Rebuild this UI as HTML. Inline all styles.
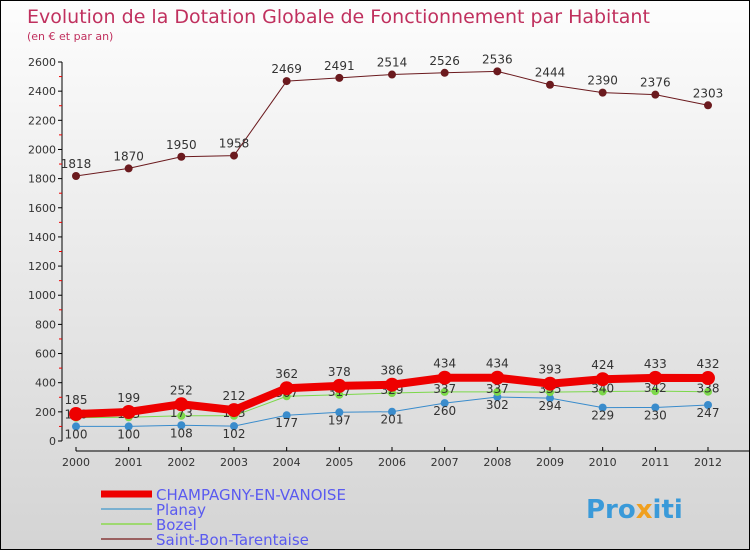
<!DOCTYPE html>
<html><head><meta charset="utf-8"><style>
body{margin:0}
#c{width:750px;height:550px;position:relative;overflow:hidden;box-sizing:border-box;border:1px solid #000;background:linear-gradient(#fdfdfd,#d4d4d4);font-family:"DejaVu Sans","Liberation Sans",sans-serif}
text{font-family:"DejaVu Sans","Liberation Sans",sans-serif}
</style></head><body>
<div id="c">
<svg id="s" width="750" height="550">
<text x="26" y="22" font-size="19" fill="#c0305e">Evolution de la Dotation Globale de Fonctionnement par Habitant</text>
<text x="26" y="39" font-size="11" fill="#c0305e">(en € et par an)</text>
<g id="axes"></g><g id="series"></g><g id="legend"></g>
<text x="585" y="517" font-size="26" font-weight="bold" fill="#3a9ad9">Pro<tspan fill="#f0a020">x</tspan>iti</text>
</svg></div>
<script>
const years=[2000,2001,2002,2003,2004,2005,2006,2007,2008,2009,2010,2011,2012];
const yTicks=[0,200,400,600,800,1000,1200,1400,1600,1800,2000,2200,2400,2600];
const champagny=[185,199,252,212,362,378,386,434,434,393,424,433,432];
const planay=[100,100,108,102,177,197,201,260,302,294,229,230,247];
const bozel=[160,163,173,173,307,317,329,337,337,335,340,342,338];
const saintBon=[1818,1870,1950,1958,2469,2491,2514,2526,2536,2444,2390,2376,2303];
const NS="http://www.w3.org/2000/svg";
const X=i=>75+i*(707-75)/12;
const Y=v=>440-v*(440-61)/2600;
function mk(t,a,p){const e=document.createElementNS(NS,t);for(const k in a)e.setAttribute(k,a[k]);p.appendChild(e);return e;}
const ax=document.getElementById('axes');
let yl=mk('line',{x1:61,y1:Y(2600),x2:61,y2:Y(0),stroke:'#000'},ax);


yTicks.forEach((v,i)=>{
 mk('line',{x1:57,x2:61,y1:Y(v),y2:Y(v),stroke:'#000'},ax);
 if(i<yTicks.length-1)mk('line',{x1:58,x2:61,y1:Y(v+100),y2:Y(v+100),stroke:'#e00'},ax);
 const t=mk('text',{x:55,y:Y(v)+4,'font-size':11,'text-anchor':'end',fill:'#333'},ax);t.textContent=v;
 
 
});
let xl=mk('line',{x1:75,y1:450,x2:749,y2:450,stroke:'#000'},ax);


years.forEach((y,i)=>{
 mk('line',{x1:X(i),x2:X(i),y1:446,y2:450,stroke:'#000'},ax);
 const t=mk('text',{x:X(i),y:465,'font-size':11,'text-anchor':'middle',fill:'#333'},ax);t.textContent=y;
 
 
});
const sg=document.getElementById('series');
function series(data,color,w,r,name,labels){
 const g=mk('g',{},sg);
 
 
 mk('polyline',{points:data.map((v,i)=>X(i)+','+Y(v)).join(' '),fill:'none',stroke:color,'stroke-width':w,'stroke-linejoin':'round'},g);
 data.forEach((v,i)=>{
  const c=mk('circle',{cx:X(i),cy:Y(v),r:r,fill:color},g);
  
  
  const t=mk('text',{x:X(i),y:Y(v)-labels,'font-size':12,'text-anchor':'middle',fill:'#333'},g);t.textContent=v;
  
  
 });
}
series(saintBon,'#6b1a1e',1,4,'saint-bon',8);
series(planay,'#3a8ccc',1,4,'planay',-12);
series(bozel,'#7cd84a',1,4,'bozel',-1);
series(champagny,'#ee0000',8,7,'champagny',10);
const lg=document.getElementById('legend');
const items=[['CHAMPAGNY-EN-VANOISE','#ee0000',7],['Planay','#7ab0d0',2],['Bozel','#9ed870',2],['Saint-Bon-Tarentaise','#9a6060',2]];
items.forEach((it,i)=>{
 const y=493+i*15;
 const g=mk('g',{},lg);
 
 
 mk('line',{x1:100,x2:151,y1:y,y2:y,stroke:it[1],'stroke-width':it[2]},g);
 const t=mk('text',{x:155,y:y+6,'font-size':15,fill:'#5a5af0'},g);t.textContent=it[0];
});
</script>
</body></html>
